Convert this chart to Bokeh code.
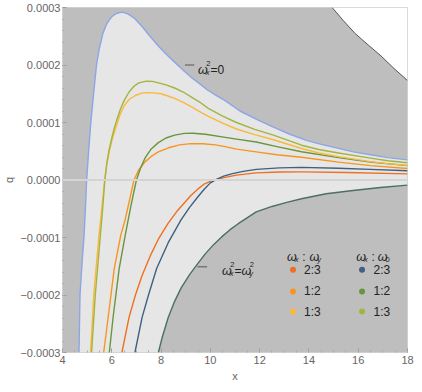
from bokeh.plotting import figure
from bokeh.models import FixedTicker, CustomJSTickFormatter, Range1d, Span
from bokeh.embed import file_html
from bokeh.resources import INLINE
from bokeh.core.properties import value

# ---------------- data ----------------
# omega_x^2 = 0 boundary
blue_x = [4.67, 4.71, 4.80, 4.87, 4.93, 4.98, 5.06, 5.15, 5.25, 5.38, 5.5, 5.64, 5.8, 6.0, 6.2, 6.43,
          6.65, 6.9, 7.23, 7.55, 7.89, 8.2, 8.55, 8.9, 9.21, 9.55, 9.87, 10.2, 10.6, 11.2, 11.9,
          12.56, 13.2, 13.9, 14.5, 15.2, 15.8, 16.5, 17.2, 18.0]
blue_q = [-3.0e-4, -2.0e-4, -1.4e-4, -1.0e-4, -5.0e-5, 0.0, 5.0e-5, 1.0e-4, 1.45e-4, 2.0e-4, 2.3e-4,
          2.55e-4, 2.72e-4, 2.84e-4, 2.9e-4, 2.92e-4, 2.89e-4, 2.82e-4, 2.67e-4, 2.5e-4, 2.33e-4,
          2.19e-4, 2.05e-4, 1.91e-4, 1.79e-4, 1.68e-4, 1.57e-4, 1.48e-4, 1.38e-4, 1.2e-4, 1.05e-4,
          9.2e-5, 8.0e-5, 6.9e-5, 6.2e-5, 5.5e-5, 4.9e-5, 4.4e-5, 3.9e-5, 3.5e-5]

# omega_x : omega_0 = 1:3
lg_x = [5.18, 5.33, 5.53, 5.61, 5.72, 5.79, 5.88, 6.0, 6.1, 6.22, 6.35, 6.5, 6.7, 6.9, 7.1, 7.4,
        7.65, 7.9, 8.2, 8.55, 8.9, 9.2, 9.55, 9.9, 10.5, 11.06, 11.8, 12.56, 13.7, 14.4, 15.2, 16.5,
        17.2, 18.0]
lg_q = [-3e-4, -2e-4, -1e-4, -6e-5, 0.0, 2.7e-5, 5e-5, 7.3e-5, 9.0e-5, 1.07e-4, 1.23e-4, 1.38e-4,
        1.53e-4, 1.63e-4, 1.69e-4, 1.72e-4, 1.715e-4, 1.69e-4, 1.655e-4, 1.6e-4, 1.53e-4, 1.45e-4,
        1.36e-4, 1.25e-4, 1.11e-4, 1.0e-4, 8.8e-5, 7.8e-5, 6.05e-5, 5.3e-5, 4.7e-5, 3.8e-5,
        3.35e-5, 3.0e-5]
# omega_x : omega_y = 1:3
ye_x = [5.14, 5.27, 5.47, 5.57, 5.71, 5.8, 5.9, 6.03, 6.17, 6.33, 6.5, 6.7, 6.96, 7.2, 7.45, 7.7,
        8.0, 8.25, 8.55, 8.9, 9.2, 9.55, 9.9, 10.5, 11.06, 11.8, 12.56, 13.7, 14.4, 15.2, 16.5,
        17.2, 18.0]
ye_q = [-3e-4, -2e-4, -1e-4, -6e-5, 0.0, 2.7e-5, 5e-5, 7.3e-5, 9.15e-5, 1.13e-4, 1.29e-4, 1.4e-4,
        1.47e-4, 1.51e-4, 1.52e-4, 1.515e-4, 1.5e-4, 1.465e-4, 1.42e-4, 1.35e-4, 1.28e-4, 1.195e-4,
        1.11e-4, 9.9e-5, 8.87e-5, 7.9e-5, 7.0e-5, 5.48e-5, 4.7e-5, 4.07e-5, 3.2e-5, 2.85e-5,
        2.55e-5]
# omega_x : omega_0 = 1:2
gr_x = [5.9, 6.05, 6.3, 6.55, 6.78, 7.0, 7.18, 7.36, 7.6, 7.89, 8.2, 8.55, 8.95, 9.3, 9.8, 10.54,
        11.06, 11.86, 12.7, 13.7, 15.2, 16.5, 18.0]
gr_q = [-3e-4, -2.4e-4, -1.54e-4, -9.5e-5, -4.4e-5, 0.0, 2.2e-5, 3.9e-5, 5.4e-5, 6.5e-5, 7.3e-5,
        7.8e-5, 8.1e-5, 8.13e-5, 7.95e-5, 7.45e-5, 7.1e-5, 6.6e-5, 5.8e-5, 4.92e-5, 3.9e-5, 3.1e-5,
        2.5e-5]
# omega_x : omega_y = 1:2
or_x = [5.67, 5.85, 6.1, 6.37, 6.54, 6.72, 6.9, 7.1, 7.36, 7.6, 7.89, 8.3, 8.75, 9.21, 9.7, 10.2,
        10.6, 11.06, 11.86, 12.7, 13.7, 15.2, 16.5, 18.0]
or_q = [-3e-4, -2.4e-4, -1.54e-4, -9.5e-5, -6.95e-5, -3.5e-5, 0.0, 1.8e-5, 3.2e-5, 4.1e-5, 4.9e-5,
        5.6e-5, 6.1e-5, 6.33e-5, 6.3e-5, 6.1e-5, 5.8e-5, 5.37e-5, 4.9e-5, 4.4e-5, 3.95e-5, 3.1e-5,
        2.5e-5, 2.0e-5]
# omega_x : omega_0 = 2:3
db_x = [6.94, 7.23, 7.49, 7.82, 8.29, 8.81, 9.15, 9.48, 9.75, 10.0, 10.27, 10.54, 10.9, 11.33,
        11.86, 12.8, 13.7, 15.2, 16.5, 18.0]
db_q = [-3e-4, -2.39e-4, -2.0e-4, -1.54e-4, -1.09e-4, -6.95e-5, -4.8e-5, -3.0e-5, -1.6e-5, -5e-6,
        1.5e-6, 6.8e-6, 1.1e-5, 1.5e-5, 1.85e-5, 2.1e-5, 2.2e-5, 2.05e-5, 1.85e-5, 1.6e-5]
# omega_x : omega_y = 2:3
rd_x = [6.41, 6.70, 6.96, 7.23, 7.56, 7.89, 8.29, 8.68, 9.21, 9.5, 9.74, 10.0, 10.27, 10.6, 11.06,
        11.86, 12.8, 13.7, 15.5, 18.0]
rd_q = [-3e-4, -2.39e-4, -2.0e-4, -1.66e-4, -1.32e-4, -1.03e-4, -7.5e-5, -5.25e-5, -2.7e-5,
        -1.55e-5, -7.3e-6, -2.5e-6, 1.1e-6, 4.5e-6, 8.5e-6, 1.24e-5, 1.38e-5, 1.41e-5, 1.3e-5,
        1.07e-5]
# omega_x^2 = omega_y^2 boundary
bd_x = [7.89, 8.05, 8.29, 8.55, 8.81, 9.15, 9.48, 9.8, 10.14, 10.47, 10.8, 11.13, 11.46, 11.86,
        12.5, 13.1, 13.7, 14.7, 15.7, 16.9, 18.0]
bd_q = [-3e-4, -2.73e-4, -2.39e-4, -2.11e-4, -1.88e-4, -1.65e-4, -1.46e-4, -1.28e-4, -1.12e-4,
        -9.85e-5, -8.64e-5, -7.6e-5, -6.67e-5, -5.54e-5, -4.6e-5, -3.9e-5, -3.27e-5, -2.4e-5,
        -1.86e-5, -1.3e-5, -9e-6]
# upper-right excluded region boundary
tr_x = [14.94, 15.4, 15.87, 16.4, 16.92, 17.45, 18.0]
tr_q = [3e-4, 2.77e-4, 2.55e-4, 2.35e-4, 2.16e-4, 1.94e-4, 1.73e-4]

ratios = ["2:3", "1:2", "1:3"]
col_y = ["#ee7020", "#f7951f", "#fbb83a"]   # omega_x : omega_y
col_0 = ["#3f6081", "#6b953c", "#a2b53f"]   # omega_x : omega_0

x_ticks = [4, 6, 8, 10, 12, 14, 16, 18]
q_ticks = [-0.0003, -0.0002, -0.0001, 0.0, 0.0001, 0.0002, 0.0003]
X0, X1 = 4, 18
Q0, Q1 = -0.0003, 0.0003

FONT = "Liberation Sans"
TICK_COL = "#666666"
TXT_COL = "#222222"

p = figure(width=414, height=384, output_backend="svg", toolbar_location=None,
           x_range=Range1d(X0, X1), y_range=Range1d(Q0, Q1),
           min_border_left=54, min_border_right=7, min_border_top=7, min_border_bottom=31,
           background_fill_color="#bebebe", border_fill_color="white")
p.outline_line_color = "#cfcfcf"
p.grid.visible = False

# regions
p.patch(blue_x + bd_x[::-1], blue_q + bd_q[::-1], fill_color="#e6e6e6", line_color=None)
p.patch(tr_x + [X1], tr_q + [Q1], fill_color="white", line_color=None)
p.add_layout(Span(location=0.0, dimension="width", line_color="#d4d4d4", line_width=2))

p.line(tr_x, tr_q, line_color="#555555", line_width=1)
p.line(bd_x, bd_q, line_color="#4d6f5f", line_width=1.4, line_join="round")
p.line(blue_x, blue_q, line_color="#8ea5e6", line_width=1.4, line_join="round")

curves = [(rd_x, rd_q, col_y[0]), (db_x, db_q, col_0[0]), (or_x, or_q, col_y[1]),
          (gr_x, gr_q, col_0[1]), (ye_x, ye_q, col_y[2]), (lg_x, lg_q, col_0[2])]
for cx, cq, c in curves:
    p.line(cx, cq, line_color=c, line_width=1.4, line_join="round")

# axes
p.xaxis.ticker = FixedTicker(ticks=x_ticks, minor_ticks=[4 + 0.5 * i for i in range(29)])
p.yaxis.ticker = FixedTicker(ticks=q_ticks, minor_ticks=[-0.0003 + 0.00002 * i for i in range(31)])
p.yaxis.formatter = CustomJSTickFormatter(
    code="return (tick < -1e-12 ? '\u2212' : '') + Math.abs(tick).toFixed(4);")
for ax in (p.xaxis[0], p.yaxis[0]):
    ax.axis_line_color = None
    ax.major_tick_in = 4
    ax.major_tick_out = 0
    ax.minor_tick_in = 2
    ax.minor_tick_out = 0
    ax.major_tick_line_color = "#9a9a9a"
    ax.minor_tick_line_color = "#aaaaaa"
    ax.major_label_text_font = FONT
    ax.major_label_text_font_size = "11px"
    ax.major_label_text_color = TICK_COL
    ax.axis_label_text_font = FONT
    ax.axis_label_text_font_size = "11px"
    ax.axis_label_text_font_style = "normal"
    ax.axis_label_text_color = TICK_COL
p.xaxis.axis_label = "x"
p.yaxis.axis_label = "q"
p.xaxis.major_label_standoff = 3
p.xaxis.axis_label_standoff = 3
p.yaxis.major_label_standoff = 2
p.yaxis.axis_label_standoff = 2


def txt(x, y, s, dx=0, size="12px", style="normal", align="left", baseline="alphabetic"):
    p.text(x=[x], y=[y], text=[s], x_offset=dx, text_font=value(FONT), text_font_size=size,
           text_font_style=style, text_align=align, text_baseline=baseline, text_color=TXT_COL)


def omega_sym(x, y, dx, sub, sup=None, sub_style="italic"):
    """omega with a subscript (and optional superscript), anchored at data (x, y) + dx pixels."""
    txt(x, y, "\u03c9", dx=dx, size="12.5px", style="italic")
    txt(x, y - 0.0000045, sub, dx=dx + 7.8, size="7.5px", style=sub_style)
    if sup is not None:
        txt(x, y + 0.0000105, sup, dx=dx + 8.3, size="7.5px")


# label: omega_x^2 = 0
p.line([8.97, 9.35], [0.0002, 0.0002], line_color="#555555", line_width=1)
omega_sym(9.50, 0.000192, 0, "x", "2")
txt(9.50, 0.000192, "=0", dx=12.5)

# label: omega_x^2 = omega_y^2
p.line([9.48, 9.87], [-0.000151, -0.000151], line_color="#555555", line_width=1)
omega_sym(10.47, -0.0001575, 0, "x", "2")
txt(10.47, -0.0001575, "=", dx=12.5)
omega_sym(10.47, -0.0001575, 19.5, "y", "2")

# legend headings
omega_sym(13.11, -0.0001339, 0, "x")
txt(13.11, -0.0001339, ":", dx=17, align="center")
omega_sym(13.11, -0.0001339, 22.5, "y")
omega_sym(15.92, -0.0001339, 0, "x")
txt(15.92, -0.0001339, ":", dx=17, align="center")
omega_sym(15.92, -0.0001339, 21.5, "0", sub_style="normal")

rows_q = [-0.000156, -0.0001937, -0.0002288]
p.scatter([13.354] * 3, rows_q, size=6, color=col_y, line_color=None)
p.scatter([16.155] * 3, rows_q, size=6, color=col_0, line_color=None)
p.text(x=[13.80] * 3, y=rows_q, text=ratios, text_font=value(FONT), text_font_size="12px",
       text_baseline="middle", text_color=TXT_COL)
p.text(x=[16.62] * 3, y=rows_q, text=ratios, text_font=value(FONT), text_font_size="12px",
       text_baseline="middle", text_color=TXT_COL)

open("out.html", "w").write(file_html(p, INLINE))
